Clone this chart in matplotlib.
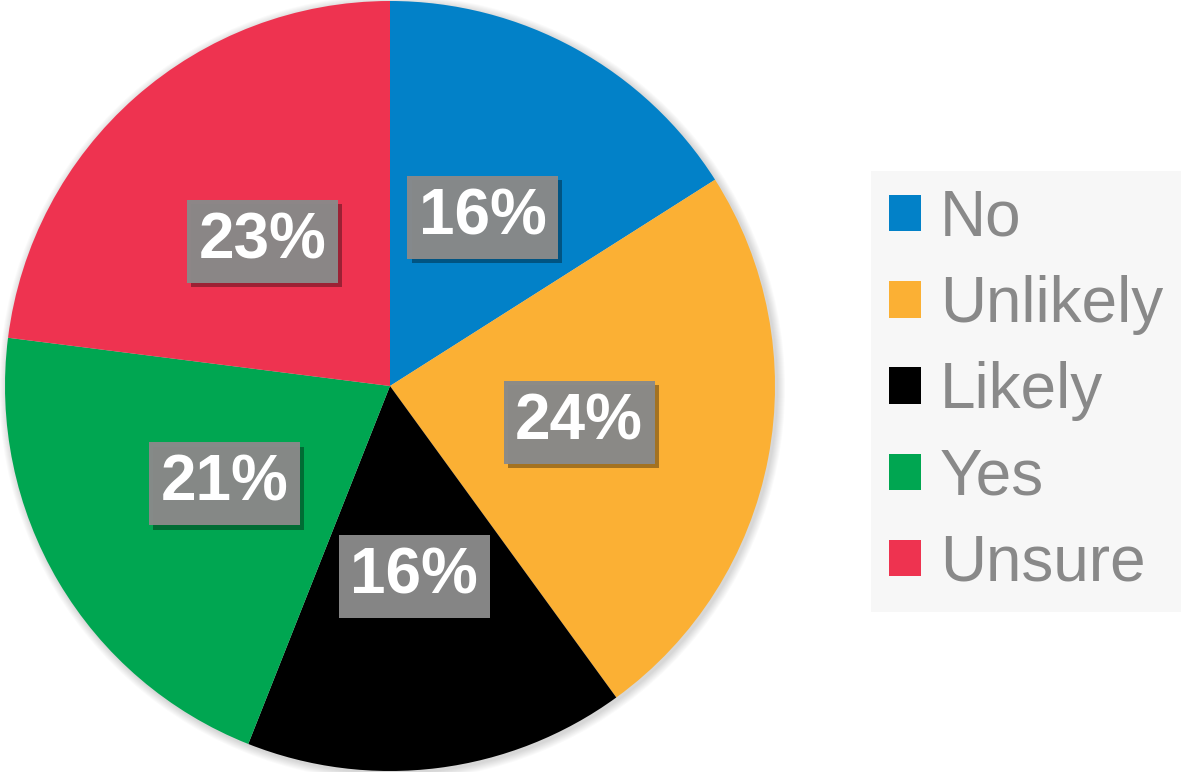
import matplotlib
matplotlib.use('Agg')
import matplotlib.pyplot as plt
import matplotlib.patheffects as pe
from matplotlib.patches import Patch, Circle

labels = ['No', 'Unlikely', 'Likely', 'Yes', 'Unsure']
values = [16, 24, 16, 21, 23]
colors = ['#0281C8', '#FBB034', '#000000', '#00A651', '#EE3350']

plt.rcParams['font.family'] = ['Liberation Sans', 'DejaVu Sans']

fig = plt.figure(figsize=(11.92, 7.72), dpi=100)
ax = fig.add_axes([0, 0, 1, 1])

cx, cy, r = 390, 386, 385

# soft shadow behind the pie
for i in range(8):
    ax.add_patch(Circle((cx + 2, cy - 2), r + 8 - i, color='#000000', alpha=0.018, lw=0, zorder=0))

wedges, texts, autotexts = ax.pie(
    values, colors=colors, startangle=90, counterclock=False,
    center=(cx, cy), radius=r, autopct='%d%%', pctdistance=0.5,
    wedgeprops=dict(linewidth=0), frame=False,
    textprops=dict(color='white', fontsize=46, fontweight='bold'))

for t in autotexts:
    t.set_bbox(dict(boxstyle='square,pad=0.18', facecolor='#8a8a8a', edgecolor='none', alpha=0.97))
    t.get_bbox_patch().set_path_effects([
        pe.SimplePatchShadow(offset=(3, -3), shadow_rgbFace='#000000', alpha=0.35), pe.Normal()])

ax.set_xlim(0, 1192)
ax.set_ylim(0, 772)
ax.set_aspect('equal')
ax.axis('off')

handles = [Patch(facecolor=c, edgecolor='none') for c in colors]
leg = ax.legend(handles, labels, loc='upper left', bbox_to_anchor=(871 / 1192, 1 - 171 / 772),
                fontsize=46, frameon=True, fancybox=False, framealpha=1,
                handlelength=0.5, handleheight=0.5, handletextpad=0.3,
                labelspacing=0.41, borderpad=0.28, borderaxespad=0)
leg.get_frame().set_facecolor('#f7f7f7')
leg.get_frame().set_edgecolor('none')
for t in leg.get_texts():
    t.set_color('#898989')

fig.savefig('out.png', dpi=100)
